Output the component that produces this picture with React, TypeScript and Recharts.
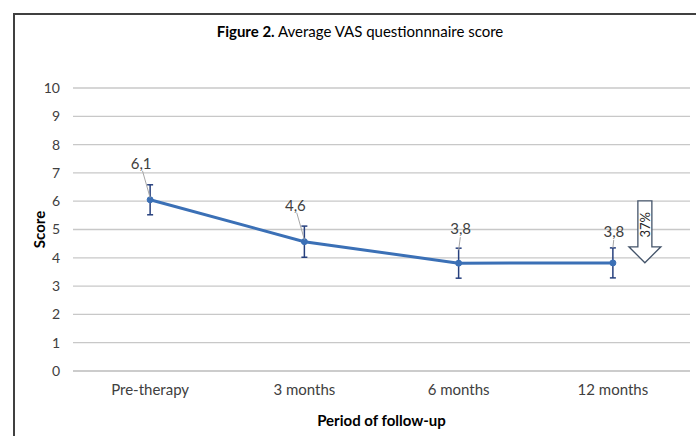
import { CartesianGrid, ErrorBar, LabelList, Line, LineChart, ReferenceDot, XAxis, YAxis } from "recharts"

const periods = ["Pre-therapy", "3 months", "6 months", "12 months"]
const scores = [6.05, 4.57, 3.81, 3.82]
const scoreLabels = ["6,1", "4,6", "3,8", "3,8"]
const errors = [0.53, 0.55, 0.53, 0.53]
const yTicks = [0, 1, 2, 3, 4, 5, 6, 7, 8, 9, 10]
const reductionLabel = "37%"

const data = periods.map((name, i) => ({
  name,
  score: scores[i],
  err: errors[i],
  label: scoreLabels[i],
}))

const FONT = "Lato, 'Open Sans', sans-serif"

// label placement relative to each point: [dx, dy, leader start dy, leader end dy]
const labelOffsets = [
  [-9, -37, -29, -2],
  [-9, -37, -29, -2],
  [2, -35, -26, -13],
  [1, -32, -23, -15],
]

function ValueLabel(props: any) {
  const { x, y, index } = props
  const [dx, dy, l1, l2] = labelOffsets[index]
  return (
    <g>
      <line x1={x + dx * 0.85} y1={y + l1} x2={x} y2={y + l2} stroke="#a6a6a6" strokeWidth={1} />
      <text
        x={x + dx}
        y={y + dy}
        textAnchor="middle"
        dominantBaseline="central"
        fontSize={15}
        fontFamily={FONT}
        fill="#404040"
      >
        {scoreLabels[index]}
      </text>
    </g>
  )
}

function DownArrow(props: any) {
  const { cx, cy } = props
  const ax = cx + 32
  const top = cy + 1
  const path = `M ${ax - 7} ${top} L ${ax + 7} ${top} L ${ax + 7} ${top + 46} L ${ax + 16} ${top + 46} L ${ax} ${top + 62} L ${ax - 16} ${top + 46} L ${ax - 7} ${top + 46} Z`
  return (
    <g>
      <path d={path} fill="#fff" stroke="#44546a" strokeWidth={1.3} />
      <text
        x={ax}
        y={top + 24}
        transform={`rotate(-90 ${ax} ${top + 24})`}
        textAnchor="middle"
        dominantBaseline="central"
        fontSize={13}
        fontFamily={FONT}
        fill="#262626"
      >
        {reductionLabel}
      </text>
    </g>
  )
}

export default function App() {
  return (
    <div style={{ position: "absolute", left: 0, top: 0, width: 696, height: 436, background: "#fff", overflow: "hidden" }}>
      <div
        style={{
          position: "absolute",
          left: 13,
          top: 13,
          width: 720,
          height: 460,
          border: "2px solid #404040",
        }}
      />
      <div
        style={{
          position: "absolute",
          left: 0,
          width: 720,
          top: 22,
          textAlign: "center",
          fontFamily: FONT,
          fontSize: 15,
          color: "#000",
        }}
      >
        <b>Figure 2.</b> Average VAS questionnnaire score
      </div>
      <div style={{ position: "absolute", left: 0, top: 0 }}>
        <LineChart width={696} height={436} data={data} margin={{ top: 88, right: 6, bottom: 35, left: 0 }}>
          <CartesianGrid vertical={false} stroke="#c8c8c8" strokeWidth={1.3} />
          <XAxis
            dataKey="name"
            scale="band"
            height={30}
            tickSize={0}
            tickMargin={13}
            axisLine={{ stroke: "#c8c8c8", strokeWidth: 1.3 }}
            tick={{ fontSize: 15, fontFamily: FONT, fill: "#404040" }}
            label={{
              value: "Period of follow-up",
              position: "insideBottom",
              offset: -25,
              style: { fontSize: 15, fontWeight: 700, fontFamily: FONT, fill: "#000" },
            }}
          />
          <YAxis
            width={73}
            domain={[0, 10]}
            ticks={yTicks}
            interval={0}
            tickSize={0}
            tickMargin={13}
            axisLine={false}
            tick={{ fontSize: 14, fontFamily: FONT, fill: "#404040" }}
            label={{
              value: "Score",
              angle: -90,
              position: "insideLeft",
              offset: 40,
              style: { fontSize: 15, fontWeight: 700, fontFamily: FONT, fill: "#000", textAnchor: "middle" },
            }}
          />
          <Line
            type="linear"
            dataKey="score"
            stroke="#3b70b6"
            strokeWidth={3}
            dot={{ r: 3, fill: "#3b70b6", stroke: "#3b70b6", strokeWidth: 1 }}
            isAnimationActive={false}
          >
            <ErrorBar dataKey="err" direction="y" width={3} stroke="#27407e" strokeWidth={1.5} isAnimationActive={false} />
            <LabelList dataKey="label" content={<ValueLabel />} />
          </Line>
          <ReferenceDot x="12 months" y={6.05} r={0} shape={<DownArrow />} ifOverflow="visible" />
        </LineChart>
      </div>
    </div>
  )
}
